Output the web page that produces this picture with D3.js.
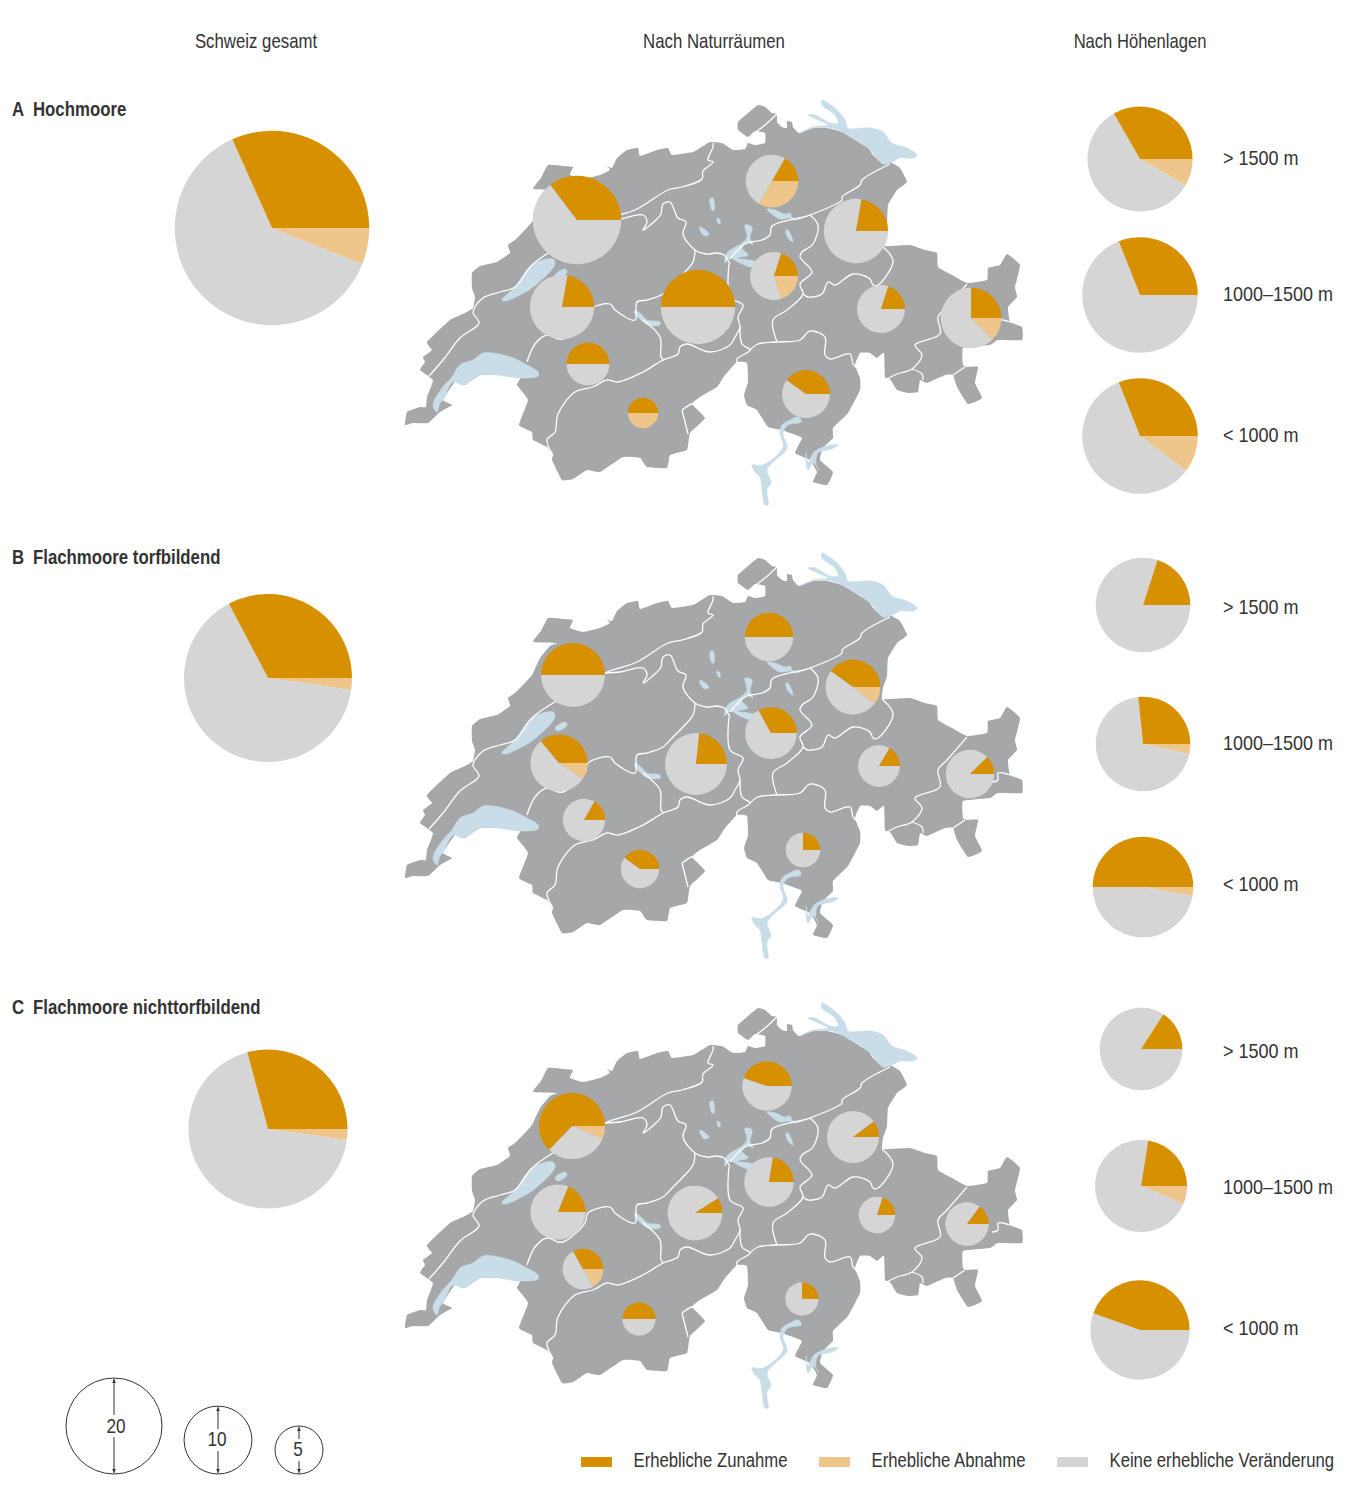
<!DOCTYPE html>
<html>
<head>
<meta charset="utf-8">
<script src="https://cdn.jsdelivr.net/npm/d3@7"></script>
<style>
html, body { margin: 0; padding: 0; background: #fff; }
text { font-family: "Liberation Sans", sans-serif; fill: #333; }
</style>
</head>
<body>
<div id="chart"></div>
<script>
var width = 1354,
height = 1501;

// --- data ---
var columnTitles = ["Schweiz gesamt", "Nach Naturräumen", "Nach Höhenlagen"];
var panelLetters = ["A", "B", "C"];
var panelNames = ["Hochmoore", "Flachmoore torfbildend", "Flachmoore nichttorfbildend"];
var altitudeLabels = ["> 1500 m", "1000–1500 m", "< 1000 m"];
var legendLabels = ["Erhebliche Zunahme", "Erhebliche Abnahme", "Keine erhebliche Veränderung"];
var sizeLegend = [20, 10, 5];

// size = number of sites, up / down = share in percent
// regions: jura, mittelland west, voralpen west, wallis, berner alpen, mittelland ost,
//          nordost, zentral, graubuenden, tessin, engadin
var totalSize = [82, 61.2, 54.9];
var totalUp = [31.7, 32.7, 29.2];
var totalDown = [6.1, 2.3, 2.2];

var regionSizeA = [17, 9, 4, 2, 12, 6, 9, 5, 5, 5, 8];
var regionUpA = [35.3, 22.2, 50, 50, 50, 16.7, 22.2, 20, 20, 40, 25];
var regionDownA = [0, 0, 0, 50, 0, 33.3, 0, 20, 0, 0, 12.5];

var regionSizeB = [8.9, 7.1, 3.9, 3.2, 8.3, 5.1, 6.5, 5.8, 3.8, 2.6, 5.1];
var regionUpB = [50, 36, 16.7, 40, 23.3, 50, 40, 33, 16.5, 25, 12.3];
var regionDownB = [0, 9.3, 0, 0, 0, 0, 10.5, 0, 0, 0, 0];

var regionSizeC = [9.5, 6.6, 3.6, 2.4, 6.5, 5.3, 5.9, 5.3, 2.9, 2.4, 4.1];
var regionUpC = [62.8, 18.8, 33, 50, 9, 44.7, 10.2, 22.4, 20, 25, 15];
var regionDownC = [6.3, 0, 16.7, 0, 0, 0, 0, 0, 0, 0, 0];

var altSizeA = [24, 29, 29];
var altUpA = [33.3, 31, 31];
var altDownA = [8.3, 0, 10.3];

var altSizeB = [19.4, 19.4, 22];
var altUpB = [20, 26.6, 50];
var altDownB = [0, 3.4, 2.9];

var altSizeC = [14.8, 18.4, 21.4];
var altUpC = [15.9, 22.5, 44.5];
var altDownC = [0, 6.4, 0];

// --- map geometry, traced in map units ---
var countryOutline = [[405,425],[407,412],[420,407],[426,407],[427,397],[433,380],[420,370],[425,362],[423,357],[432,350],[427,342],[450,320],[465,313],[473,308],[475,297],[472,288],[472,273],[480,266],[497,262],[510,253],[508,245],[515,240],[523,232],[532,222],[540,205],[550,193],[557,190],[533,189],[541,178],[548,165],[563,166],[573,167],[570,175],[583,179],[600,175],[610,170],[607,166],[612,168],[617,158],[627,150],[638,148],[640,156],[657,150],[668,148],[672,155],[693,152],[700,148],[710,142],[722,143],[733,150],[745,149],[748,143],[755,145],[765,143],[765,133],[755,131],[748,137],[738,130],[738,122],[748,113],[758,105],[765,107],[772,113],[777,114],[777,122],[782,127],[787,128],[787,121],[792,122],[793,127],[799,133],[813,128],[827,128],[842,132],[868,148],[873,155],[882,163],[890,162],[900,168],[907,182],[897,190],[888,205],[887,223],[883,235],[882,246],[890,246],[910,245],[925,250],[937,253],[938,267],[952,275],[967,283],[987,280],[988,268],[1000,265],[1007,254],[1020,265],[1015,287],[1017,297],[1008,307],[1010,322],[1022,327],[1022,340],[998,340],[990,345],[963,348],[963,365],[967,367],[978,367],[975,383],[982,398],[968,404],[957,387],[953,375],[945,375],[927,383],[920,380],[918,392],[908,393],[897,390],[890,379],[885,377],[884,353],[877,358],[870,353],[860,353],[855,365],[860,378],[860,390],[848,413],[833,428],[833,438],[823,448],[820,460],[833,472],[827,485],[813,482],[817,472],[810,460],[795,453],[802,438],[790,433],[782,430],[768,427],[757,410],[747,405],[744,395],[748,382],[747,363],[737,362],[725,375],[717,387],[700,397],[692,404],[705,418],[690,433],[687,450],[670,455],[667,468],[647,467],[640,458],[623,457],[600,472],[587,470],[573,479],[562,480],[552,460],[553,455],[547,447],[533,440],[532,432],[519,425],[528,400],[517,385],[520,378],[500,375],[480,375],[465,385],[455,382],[443,400],[452,405],[440,412],[428,423],[413,423]];

var lakeShapes = [
  [[433,405],[437,412],[440,403],[443,400],[453,382],[463,385],[480,375],[497,375],[520,378],[538,376],[538,372],[527,365],[513,358],[493,353],[483,353],[473,360],[460,365],[452,377],[442,388]],
  [[502,300],[515,287],[532,265],[553,259],[555,264],[537,284],[520,295],[505,301]],
  [[555,275],[565,269],[567,272],[558,278]],
  [[635,310],[642,315],[647,320],[660,322],[660,325],[648,325],[640,319],[635,314]],
  [[710,199],[713,198],[714,210],[712,210]],
  [[717,218],[720,220],[720,224],[718,223]],
  [[700,227],[709,234],[705,236],[700,230]],
  [[745,225],[752,227],[750,238],[753,245],[747,242],[742,248],[748,255],[737,258],[755,262],[753,267],[740,263],[730,258],[725,263],[727,253],[742,243],[747,237]],
  [[786,230],[788,230],[793,242],[788,238]],
  [[767,209],[775,210],[785,214],[790,213],[793,218],[810,215],[795,220],[790,218],[780,219],[772,214]],
  [[822,100],[825,101],[837,110],[845,120],[848,128],[870,128],[883,132],[892,143],[907,148],[917,155],[913,158],[900,158],[892,162],[883,164],[877,158],[868,148],[842,132],[832,128],[813,128],[800,133],[813,127],[828,125],[818,120],[808,115],[815,115],[830,123],[838,123],[835,115],[822,105]],
  [[797,417],[800,418],[801,422],[788,425],[783,433],[787,448],[772,463],[767,470],[771,483],[767,489],[768,505],[765,505],[762,490],[760,477],[755,472],[752,465],[763,465],[783,447],[780,433],[782,425],[790,420]],
  [[838,445],[832,449],[818,453],[816,465],[819,470],[813,463],[808,470],[806,453],[808,463],[814,452],[830,445]]
];

var regionBorders = [
  [[429,376],[443,360],[460,338],[479,323],[473,312],[483,298],[500,292],[515,287],[532,265],[553,250],[580,235],[605,220],[637,209],[668,190],[682,187],[702,179],[703,171],[713,162],[708,160],[713,147],[713,143]],
  [[605,220],[620,219],[643,215],[647,222],[643,230],[657,219],[661,214],[663,204],[670,202],[678,218],[686,222],[683,234],[695,250],[707,254],[717,253],[724,255],[730,264]],
  [[695,250],[693,262],[682,275],[673,284],[663,294],[647,300],[637,302],[635,320],[615,310],[610,304],[588,310],[585,320],[570,335],[563,339],[558,339],[547,335],[535,344],[527,362]],
  [[643,320],[660,337],[661,357],[664,360]],
  [[553,455],[547,440],[555,432],[558,414],[575,392],[593,387],[607,380],[618,382],[643,372],[663,360],[678,354],[680,347],[687,344],[710,352],[730,345],[735,337],[740,327],[738,317],[743,305],[730,297],[729,264]],
  [[740,327],[742,344],[750,350],[737,359],[737,365]],
  [[682,410],[692,404],[697,405]],
  [[682,410],[688,434]],
  [[890,164],[862,180],[860,185],[842,197],[842,200],[810,215],[772,226],[770,235],[762,240],[745,244],[730,259]],
  [[810,215],[818,225],[813,244],[802,252],[800,257],[812,272],[800,284],[803,294],[787,310],[773,320],[777,342]],
  [[803,294],[808,297],[822,294],[828,282],[835,285],[853,274],[870,279],[873,285],[878,285],[893,261],[882,246]],
  [[750,350],[758,344],[775,342],[800,340],[808,332],[813,331],[825,337],[825,355],[830,359],[850,354],[853,364],[858,369]],
  [[967,284],[947,307],[938,317],[940,334],[915,345],[922,355],[912,369],[897,374],[887,379]],
  [[912,369],[922,374],[923,380]],
  [[953,375],[965,367]],
  [[992,329],[998,327],[998,320],[1010,322]],
  [[757,131],[765,125],[778,113]]
];

// --- layout ---
var mapOffsets = [0, 453, 903];
var totalCenters = [[272,228],[268,678],[268,1129]];
var altCenters = [
  [[1140,159],[1140,295],[1140,436]],
  [[1143,605],[1143,744],[1143,887]],
  [[1141,1049],[1141,1186],[1140,1330]]
];
var regionCenters = [
  [[577,220],[562,307],[588,364],[643,413],[698,307],[772,181],[856,231],[774,276],[881,309],[806,394],[971,318]],
  [[573,675],[559,763],[584,820],[640,869],[696,764],[769,637],[853,687],[771,733],[879,766],[803,850],[970,774]],
  [[572,1126],[558,1212],[583,1269],[639,1319],[695,1213],[767,1086],[853,1137],[769,1182],[877,1215],[802,1299],[967,1224]]
];
var titleBaselines = [116, 564, 1014];
var altBaselines = [[165,301,442],[614,750,891],[1058,1194,1335]];

var colorUp = "#d69000",
colorDown = "#eec68c",
colorNone = "#d5d5d5",
colorLand = "#a6a7a9",
colorLake = "#c9dde9";

var svg = d3.select('#chart').append('svg')
.attr('width', width)
.attr('height', height)
.style('display', 'block');

// area of a pie is proportional to its size value
var scaleR = d3.scaleSqrt().domain([0, 20]).range([0, 48]);
var scaleX = d3.scaleLinear().domain([0, width]).range([0, width]);

var pieGen = d3.pie().sort(null)
    .startAngle(Math.PI / 2)
    .endAngle(Math.PI * 2.5)
    .value(function(d) { return d.v; });

// no condensed face installed, so squeeze the regular one
function addText(x, y, str, squeeze, anchor, bold) {
    return svg.append('text')
        .attr('transform', 'translate(' + x + ',' + y + ') scale(' + squeeze + ',1)')
        .attr('text-anchor', anchor || 'start')
        .attr('font-size', 20)
        .attr('font-weight', bold ? 'bold' : 'normal')
        .text(str);
}

function drawPie(parent, center, size, up, down) {
    var parts = [
        {v: down, c: colorDown},
        {v: 100 - up - down, c: colorNone},
        {v: up, c: colorUp}
    ];
    var arc = d3.arc().innerRadius(0).outerRadius(scaleR(size));
    parent.append('g')
        .attr('transform', 'translate(' + center[0] + ',' + center[1] + ')')
        .selectAll('path').data(pieGen(parts)).enter().append('path')
        .attr('d', arc)
        .attr('fill', function(d) { return d.data.c; });
}

function drawMap(offset) {
    var scaleY = d3.scaleLinear().domain([0, height]).range([offset, height + offset]);
    var outline = d3.line()
        .x(function(d) { return scaleX(d[0]); })
        .y(function(d) { return scaleY(d[1]); })
        .curve(d3.curveCardinalClosed.tension(0.65));
    var closed = d3.line()
        .x(function(d) { return scaleX(d[0]); })
        .y(function(d) { return scaleY(d[1]); })
        .curve(d3.curveCatmullRomClosed.alpha(0.5));
    var open = d3.line()
        .x(function(d) { return scaleX(d[0]); })
        .y(function(d) { return scaleY(d[1]); })
        .curve(d3.curveCatmullRom.alpha(0.5));
    var g = svg.append('g');
    g.append('path').attr('d', outline(countryOutline)).attr('fill', colorLand);
    g.selectAll('.lake').data(lakeShapes).enter().append('path')
        .attr('class', 'lake')
        .attr('d', closed)
        .attr('fill', colorLake)
        .attr('stroke', colorLake)
        .attr('stroke-width', 0.6);
    g.selectAll('.border').data(regionBorders).enter().append('path')
        .attr('class', 'border')
        .attr('d', open)
        .attr('fill', 'none')
        .attr('stroke', '#fff')
        .attr('stroke-width', 1.3)
        .attr('stroke-linejoin', 'round');
}

var regionSizes = [regionSizeA, regionSizeB, regionSizeC],
regionUps = [regionUpA, regionUpB, regionUpC],
regionDowns = [regionDownA, regionDownB, regionDownC],
altSizes = [altSizeA, altSizeB, altSizeC],
altUps = [altUpA, altUpB, altUpC],
altDowns = [altDownA, altDownB, altDownC];

// column titles
var titleX = [256, 714, 1140];
columnTitles.forEach(function(t, i) {
    addText(titleX[i], 48, t, i == 2 ? 0.83 : 0.84, 'middle');
});

panelLetters.forEach(function(letter, p) {
    addText(12, titleBaselines[p], letter, 0.84, 'start', true);
    addText(33, titleBaselines[p], panelNames[p], 0.84, 'start', true);

    drawMap(mapOffsets[p]);
    drawPie(svg, totalCenters[p], totalSize[p], totalUp[p], totalDown[p]);

    regionCenters[p].forEach(function(c, i) {
        drawPie(svg, c, regionSizes[p][i], regionUps[p][i], regionDowns[p][i]);
    });
    altCenters[p].forEach(function(c, i) {
        drawPie(svg, c, altSizes[p][i], altUps[p][i], altDowns[p][i]);
        addText(1223, altBaselines[p][i], altitudeLabels[i], 0.9);
    });
});

// size legend
var sizeX = [114, 218, 299],
sizeBottom = 1474,
sizeGap = 11;
sizeLegend.forEach(function(v, i) {
    var r = scaleR(v), cy = sizeBottom - r, x = sizeX[i];
    var g = svg.append('g');
    g.append('circle').attr('cx', x).attr('cy', cy).attr('r', r)
        .attr('fill', 'none').attr('stroke', '#333').attr('stroke-width', 1);
    [[cy - r + 1, cy - sizeGap, 1], [cy + sizeGap, cy + r - 1, -1]].forEach(function(s) {
        g.append('line').attr('x1', x).attr('x2', x).attr('y1', s[0]).attr('y2', s[1])
            .attr('stroke', '#333').attr('stroke-width', 1);
        var tip = s[2] > 0 ? s[0] : s[1];
        g.append('path')
            .attr('d', d3.line()([[x - 1.8, tip + 4 * s[2]], [x, tip], [x + 1.8, tip + 4 * s[2]]]) + 'Z')
            .attr('fill', '#333');
    });
    addText(x + (i == 0 ? 2 : -1), cy + (i == 0 ? 6.5 : 5.5), v, 0.86, 'middle');
});

// colour legend
var legendX = [581, 819, 1057],
legendColors = [colorUp, colorDown, colorNone];
legendLabels.forEach(function(label, i) {
    svg.append('rect').attr('x', legendX[i]).attr('y', 1457)
        .attr('width', 31).attr('height', 10).attr('fill', legendColors[i]);
    addText(legendX[i] + 52.5, 1467, label, 0.835);
});
</script>
</body>
</html>
